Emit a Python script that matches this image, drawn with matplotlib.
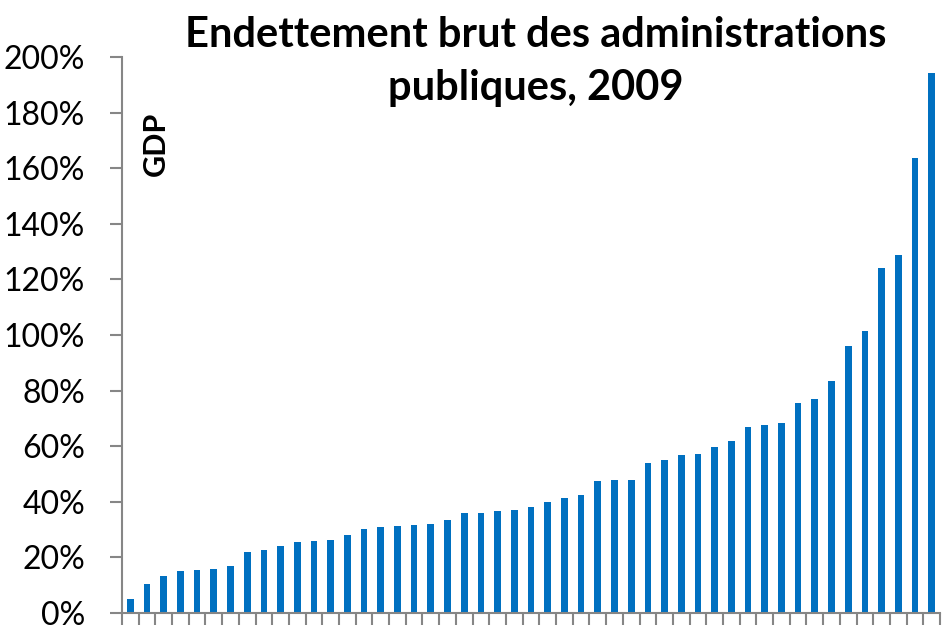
import matplotlib
matplotlib.use("Agg")
import matplotlib.pyplot as plt
import numpy as np
from matplotlib.ticker import FuncFormatter

plt.rcParams['font.family'] = ['Lato', 'DejaVu Sans']

# Gross general government debt, % of GDP, 2009 (sorted ascending)
debt_pct = [4.9, 10.4, 13.3, 15.0, 15.5, 15.8, 16.8, 22.1, 22.8, 24.0,
            25.4, 25.9, 26.3, 28.1, 30.2, 30.8, 31.3, 31.8, 32.0, 33.5,
            36.0, 36.0, 36.6, 36.9, 38.1, 39.9, 41.3, 42.6, 47.5, 47.7,
            48.0, 54.0, 55.2, 56.8, 57.1, 59.7, 61.8, 66.8, 67.7, 68.3,
            75.4, 76.9, 83.5, 95.9, 101.3, 124.2, 128.8, 163.7, 194.1]
y_ticks = [0, 20, 40, 60, 80, 100, 120, 140, 160, 180, 200]
title = "Endettement brut des administrations\npubliques, 2009"
y_label = "GDP"

blue = '#0070C0'
grey = '#868686'

fig = plt.figure(figsize=(9.43, 6.26), dpi=100)
ax = fig.add_axes([122 / 943, 13 / 626, 818 / 943, 556 / 626])

x = np.arange(len(debt_pct))
ax.bar(x, debt_pct, width=0.4, color=blue, edgecolor='none')

ax.set_xlim(-0.5, len(debt_pct) - 0.5)
ax.set_ylim(0, 200)
ax.set_yticks(y_ticks)
ax.yaxis.set_major_formatter(FuncFormatter(lambda v, p: f"{v:.0f}%"))
ax.set_xticks(np.arange(len(debt_pct) + 1) - 0.5)
ax.set_xticklabels([])

for s in ['top', 'right']:
    ax.spines[s].set_visible(False)
for s in ['left', 'bottom']:
    ax.spines[s].set_color(grey)
    ax.spines[s].set_linewidth(1.5)

ax.tick_params(axis='y', length=8.6, width=1.5, color=grey, pad=18,
               labelsize=23, labelcolor='black')
ax.tick_params(axis='x', length=8.6, width=1.5, color=grey)

fig.text(0.5685, 0.974, title, ha='center', va='top', fontsize=30,
         fontweight='bold', linespacing=1.47)
fig.text(156 / 943, 1 - 144 / 626, y_label, rotation=90, ha='center',
         va='center', fontsize=22, fontweight='bold')

fig.savefig('out.png', dpi=100)
